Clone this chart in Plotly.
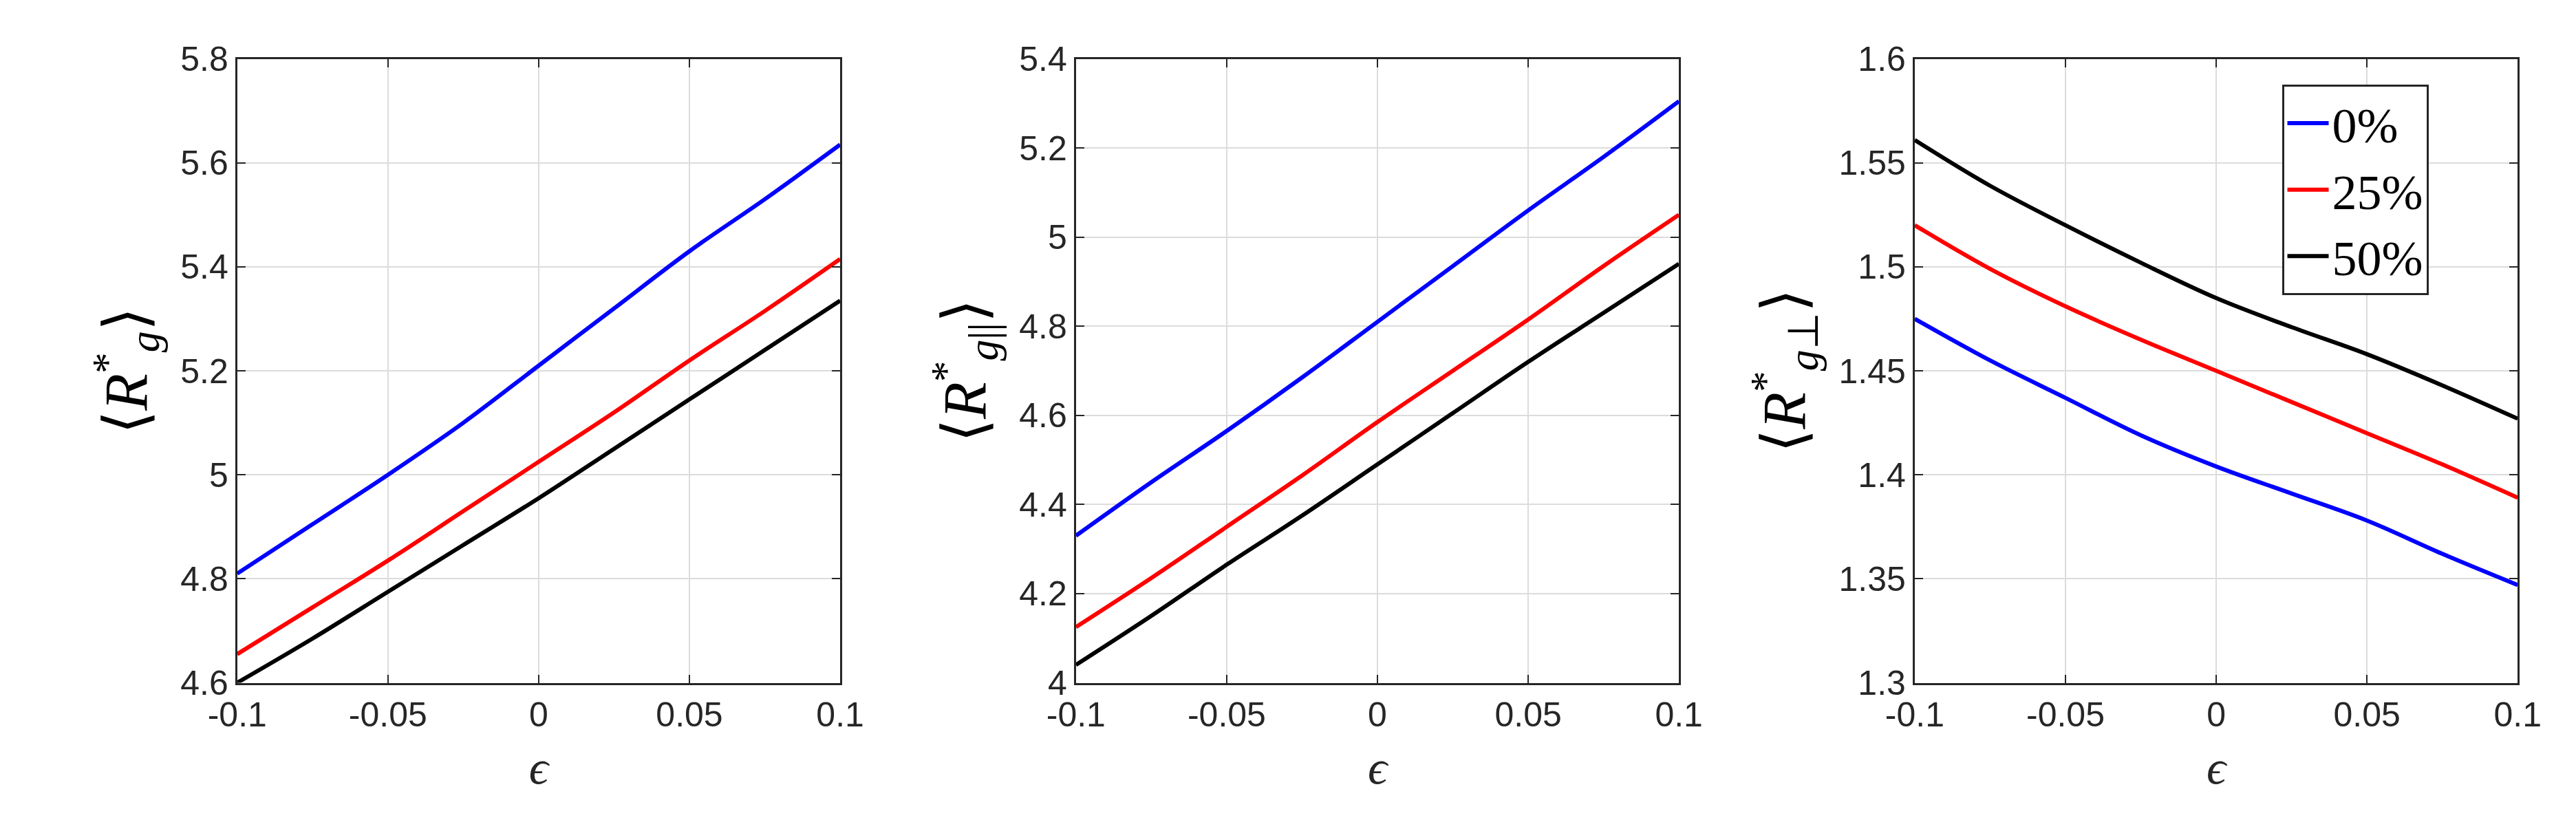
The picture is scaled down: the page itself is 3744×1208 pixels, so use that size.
import plotly.graph_objects as go

eps = [-0.1, -0.075, -0.05, -0.025, 0.0, 0.025, 0.05, 0.075, 0.1]
labels = ["0%", "25%", "50%"]
colors = ["#0000ff", "#ff0000", "#000000"]

rg_0 = [4.81, 4.905, 5.00, 5.10, 5.21, 5.32, 5.43, 5.53, 5.635]
rg_25 = [4.655, 4.745, 4.835, 4.93, 5.025, 5.12, 5.22, 5.315, 5.415]
rg_50 = [4.60, 4.685, 4.775, 4.865, 4.955, 5.05, 5.145, 5.24, 5.335]

rpar_0 = [4.33, 4.45, 4.565, 4.685, 4.81, 4.935, 5.06, 5.18, 5.305]
rpar_25 = [4.125, 4.235, 4.35, 4.465, 4.585, 4.70, 4.815, 4.935, 5.05]
rpar_50 = [4.04, 4.15, 4.265, 4.375, 4.49, 4.605, 4.72, 4.83, 4.94]

rperp_0 = [1.475, 1.455, 1.437, 1.419, 1.404, 1.391, 1.378, 1.362, 1.347]
rperp_25 = [1.52, 1.499, 1.481, 1.465, 1.45, 1.435, 1.42, 1.405, 1.389]
rperp_50 = [1.561, 1.539, 1.52, 1.502, 1.485, 1.471, 1.458, 1.443, 1.427]

panels = [
    ([rg_0, rg_25, rg_50], [4.6, 5.8], [4.6, 4.8, 5.0, 5.2, 5.4, 5.6, 5.8], ["4.6", "4.8", "5", "5.2", "5.4", "5.6", "5.8"],
     "⟨<i>R</i><sup>*</sup><sub><i>g</i></sub>⟩"),
    ([rpar_0, rpar_25, rpar_50], [4.0, 5.4], [4.0, 4.2, 4.4, 4.6, 4.8, 5.0, 5.2, 5.4], ["4", "4.2", "4.4", "4.6", "4.8", "5", "5.2", "5.4"],
     "⟨<i>R</i><sup>*</sup><sub><i>g</i>||</sub>⟩"),
    ([rperp_0, rperp_25, rperp_50], [1.3, 1.6], [1.3, 1.35, 1.4, 1.45, 1.5, 1.55, 1.6], ["1.3", "1.35", "1.4", "1.45", "1.5", "1.55", "1.6"],
     "⟨<i>R</i><sup>*</sup><sub><i>g</i>⊥</sub>⟩"),
]

W, H = 3744, 1208
lefts = [300, 1545, 2790]
pw = 895
top, bottom = 52, 1003

fig = go.Figure()
for i, (series, yr, tv, tt, title) in enumerate(panels):
    n = "" if i == 0 else str(i + 1)
    for j, ys in enumerate(series):
        fig.add_trace(go.Scatter(x=eps, y=ys, mode="lines", name=labels[j],
                                 line=dict(color=colors[j], width=6, shape="spline"),
                                 showlegend=(i == 2), xaxis="x" + n, yaxis="y" + n))
    x0 = lefts[i] / W
    x1 = (lefts[i] + pw) / W
    common = dict(showline=True, linecolor="#262626", linewidth=3, mirror="ticks",
                  ticks="inside", ticklen=12, tickwidth=2, tickcolor="#262626",
                  showgrid=True, gridcolor="#dcdcdc", gridwidth=2, zeroline=False,
                  tickfont=dict(family="Liberation Sans", size=50, color="#262626"))
    fig.layout["xaxis" + n] = dict(domain=[x0, x1], range=[-0.1, 0.1], anchor="y" + n,
                                   tickvals=[-0.1, -0.05, 0, 0.05, 0.1],
                                   ticktext=["-0.1", "-0.05", "0", "0.05", "0.1"],
                                   title=dict(text="<i>ϵ</i>", font=dict(family="Liberation Serif", size=70, color="#262626"), standoff=25),
                                   **common)
    fig.layout["yaxis" + n] = dict(domain=[1 - bottom / H, 1 - top / H], range=yr, anchor="x" + n,
                                   tickvals=tv, ticktext=tt,
                                   title=dict(text=title, font=dict(family="Liberation Serif", size=88, color="#000"), standoff=20),
                                   **common)

fig.update_layout(
    width=W, height=H, plot_bgcolor="white", paper_bgcolor="white",
    margin=dict(l=0, r=0, t=0, b=0),
    legend=dict(x=3335 / W, y=1 - 91 / H, xanchor="left", yanchor="top",
                bgcolor="white", bordercolor="#262626", borderwidth=3,
                itemwidth=60, tracegroupgap=10,
                font=dict(family="Liberation Serif", size=72, color="#000")),
)
fig.write_html("out.html")
